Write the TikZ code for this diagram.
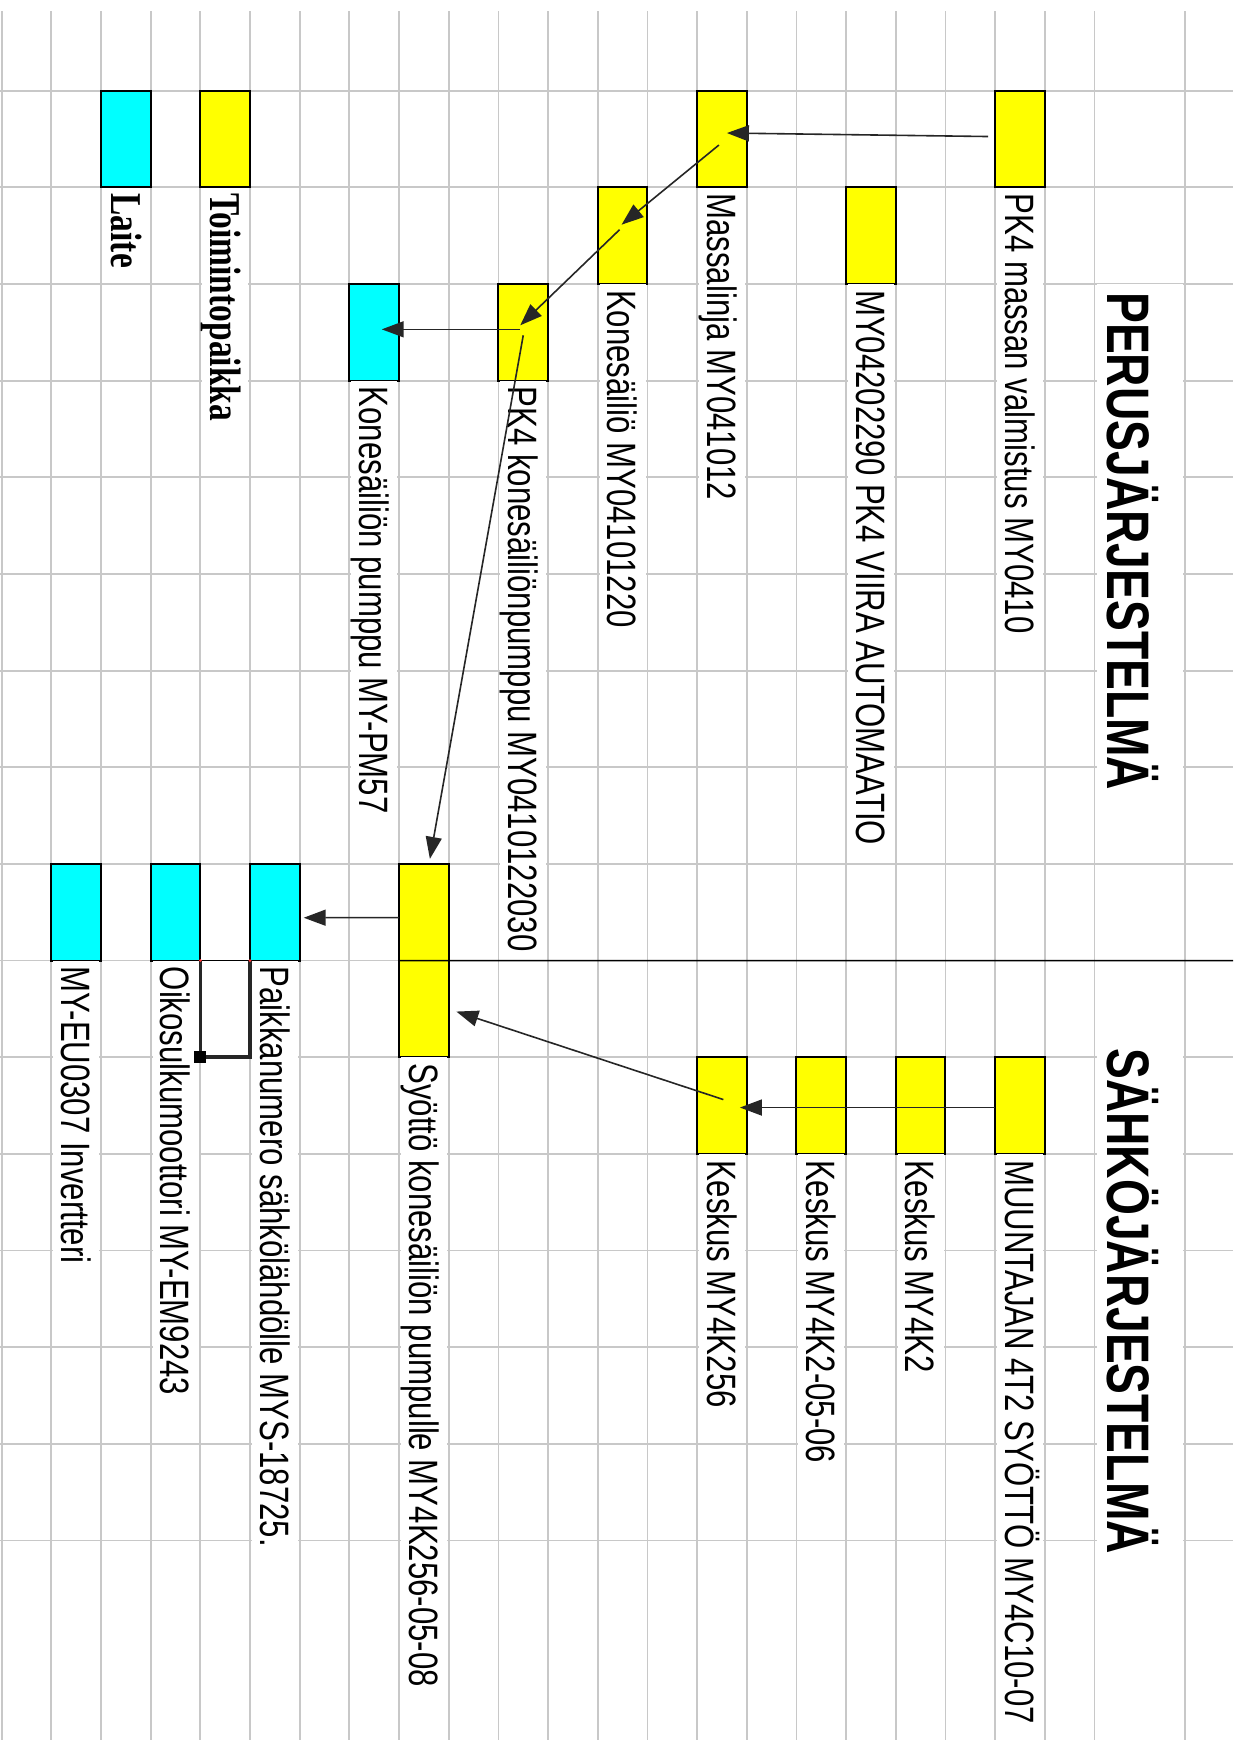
\documentclass[tikz,border=0pt]{standalone}
\usepackage{fontspec}
\setmainfont{Liberation Sans}
\newfontfamily\lblfont[FakeStretch=0.76]{Liberation Sans}
\newfontfamily\legfont[FakeStretch=0.76]{Liberation Serif}
\newfontfamily\ttlfont[FakeStretch=0.77]{Liberation Sans}
\usetikzlibrary{arrows.meta,calc}
\definecolor{gridc}{RGB}{200,200,200}
\definecolor{boxy}{RGB}{255,255,0}
\definecolor{boxc}{RGB}{0,255,255}
\begin{document}
\begin{tikzpicture}[x=1pt,y=-1pt,
  gridline/.style={gridc, line width=1.8pt},
  cell/.style={draw=black, line width=2pt, minimum width=49.67pt, minimum height=96.65pt, inner sep=0pt, outer sep=0pt, anchor=north west},
  ycell/.style={cell, fill=boxy},
  ccell/.style={cell, fill=boxc},
  lbl/.style={rotate=-90, anchor=west, fill=white, inner xsep=6pt, inner ysep=0pt, minimum height=46pt, text height=29.4pt, text depth=0pt, font=\lblfont\fontsize{41pt}{41pt}\selectfont},
  leg/.style={lbl, font=\legfont\bfseries\fontsize{44pt}{44pt}\selectfont, text height=29.1pt},
  ttl/.style={rotate=-90, anchor=west, fill=white, inner xsep=8pt, inner ysep=0pt, minimum height=86pt, text height=64.2pt, text depth=0pt, font=\ttlfont\bfseries\fontsize{60pt}{60pt}\selectfont},
  conn/.style={draw=black!85, line width=1.6pt, -{Triangle[length=22pt,width=16pt]}},
]
\useasboundingbox[fill=white] (0,0) rectangle (1243,1740);

% grid
\foreach \k in {0,...,22} \draw[gridline] ({1.7+49.67*\k},11) -- ({1.7+49.67*\k},1740);
\draw[gridline] (1184.7,11) -- (1184.7,1740);
\foreach \j in {0,...,15} \draw[gridline] (0,{90.7+96.65*\j}) -- (1233,{90.7+96.65*\j});

% boxes
\node[ycell] (pk4) at (995.1,90.7) {};
\node[ycell] (viira) at (846.09,187.35) {};
\node[ycell] (mass) at (697.08,90.7) {};
\node[ycell] (kones) at (597.74,187.35) {};
\node[ycell] (pk4kp) at (498.4,284) {};
\node[ccell] (kpump) at (349.39,284) {};
\node[ycell] (legy) at (200.38,90.7) {};
\node[ccell] (legc) at (101.04,90.7) {};
\node[ycell, minimum height=193.3pt] (syotto) at (399.06,863.9) {};
\node[ccell] (paikka) at (250.05,863.9) {};
\node[ccell] (oikos) at (150.71,863.9) {};
\node[ccell] (inv) at (51.37,863.9) {};
\node[ycell] (muun) at (995.1,1057.2) {};
\node[ycell] (k2) at (895.76,1057.2) {};
\node[ycell] (k2b) at (796.42,1057.2) {};
\node[ycell] (k256) at (697.08,1057.2) {};

% separator
\coordinate (sepend) at (1233,960.55);
\draw[black, line width=1.5pt] (syotto.west) -- (sepend);

% labels
\node[lbl] (pk4t) at (pk4.south) {PK4 massan valmistus MY0410};
\node[lbl] (viirat) at (viira.south) {MY04202290 PK4 VIIRA AUTOMAATIO};
\node[lbl] (masst) at (mass.south) {Massalinja MY041012};
\node[lbl] (konest) at (kones.south) {Konesäiliö MY04101220};
\node[lbl] (pk4kpt) at (pk4kp.south) {PK4 konesäiliönpumppu MY0410122030};
\node[lbl] (kpumpt) at (kpump.south) {Konesäiliön pumppu MY-PM57};
\node[leg] (legyt) at (legy.south) {Toimintopaikka};
\node[leg] (legct) at (legc.south) {Laite};
\node[lbl] (syottot) at (syotto.south) {Syöttö konesäiliön pumpulle MY4K256-05-08};
\node[lbl] (paikkat) at (paikka.south) {Paikkanumero sähkölähdölle MYS-18725.};
\node[lbl] (oikost) at (oikos.south) {Oikosulkumoottori MY-EM9243};
\node[lbl] (invt) at (inv.south) {MY-EU0307 Invertteri};
\node[lbl] (muunt) at (muun.south) {MUUNTAJAN 4T2 SYÖTTÖ MY4C10-07};
\node[lbl] (k2t) at (k2.south) {Keskus MY4K2};
\node[lbl] (k2bt) at (k2b.south) {Keskus MY4K2-05-06};
\node[lbl] (k256t) at (k256.south) {Keskus MY4K256};

% titles
\node[ttl] (t1) at (1139.6,284) {PERUSJÄRJESTELMÄ};
\node[ttl] (t2) at (1139.6,1040) {SÄHKÖJÄRJESTELMÄ};

% bracket between Oikosulkumoottori and Paikkanumero
\coordinate (brk) at ($(oikos.south east)+(0,96.65)$);
\draw[black, line width=1.5pt] (oikos.south east) -- (paikka.south west);
\draw[black!85, line width=3.5pt] (oikos.south east) -- (brk) -| (paikka.south west);
\node[fill=black, minimum size=12pt, inner sep=0pt] (hnd) at (brk) {};
\fill[red!80] (oikos.south east) circle (1.5pt);
\fill[red!80] (paikka.south west) circle (1.5pt);

% connectors
\draw[conn] ($(pk4.west)+(-7,-2.5)$) -- ($(mass.center)+(5,-6)$);
\draw[conn] ($(mass.center)+(-3,6)$) -- ($(kones.center)+(-1,-11)$);
\draw[conn] ($(kones.center)+(-3,-6)$) -- ($(pk4kp.center)+(-3,-7)$);
\draw[conn] ($(pk4kp.center)+(-3,-3)$) -- ($(kpump.center)+(7.5,-3)$);
\draw[conn] ($(pk4kp.center)+(0,3)$) -- ($(syotto.north)+(6,-5)$);
\draw[conn] ($(syotto.west)+(0,-43)$) -- ($(paikka.east)+(4,5.5)$);
\draw[conn] ($(k256.center)+(1.4,-6)$) -- ($(syotto.east)+(7.6,51)$);
\draw[conn] ($(muun.west)+(0,2)$) -- ($(k256.center)+(18,2)$);
\end{tikzpicture}
\end{document}
